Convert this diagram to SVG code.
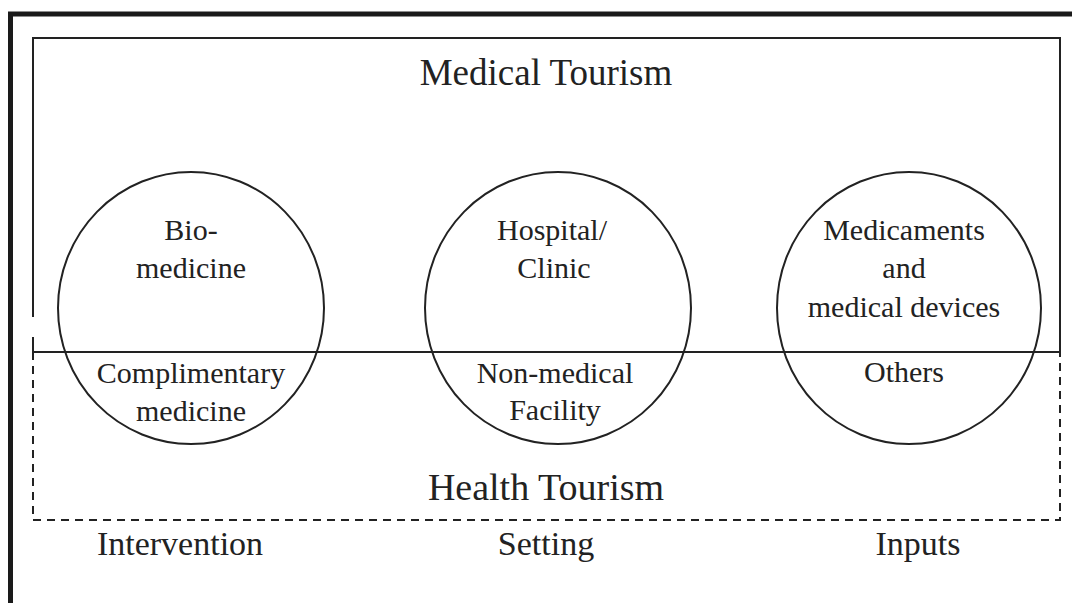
<svg xmlns="http://www.w3.org/2000/svg" width="1072" height="603" viewBox="0 0 1072 603">
<style>
text{font-family:"Liberation Serif","Times New Roman",serif;fill:#222;text-anchor:middle}
.c{font-size:30px}
.t{font-size:37px}
.h{font-size:38px}
.b{font-size:34px}
.ln{fill:none;stroke:#222;stroke-width:2}
.ds{fill:none;stroke:#222;stroke-width:2;stroke-dasharray:8 6}
</style>
<rect x="0" y="0" width="1072" height="603" fill="#fff"/>
<path d="M10.5,603 V14 H1072" fill="none" stroke="#1a1a1a" stroke-width="5"/>
<g id="medical-tourism">
<path class="ln" d="M33,317 V38 H1060 V352"/>
<path class="ln" d="M33,337 V352"/>
<text class="t" x="546" y="85">Medical Tourism</text>
</g>
<g id="connectors">
<line class="ln" x1="33" y1="352" x2="1060" y2="352"/>
</g>
<g id="health-tourism">
<path class="ds" d="M33,352 V520 H1060 V352"/>
<text class="h" x="546" y="500">Health Tourism</text>
</g>
<g id="intervention">
<ellipse class="ln" cx="191" cy="308" rx="133" ry="136"/>
<text class="c" x="191" y="240">Bio-</text>
<text class="c" x="191" y="278">medicine</text>
<text class="c" x="191" y="383">Complimentary</text>
<text class="c" x="191" y="421">medicine</text>
</g>
<g id="setting">
<ellipse class="ln" cx="558" cy="308" rx="133" ry="136"/>
<text class="c" x="552" y="240">Hospital/</text>
<text class="c" x="554" y="278">Clinic</text>
<text class="c" x="555" y="383">Non-medical</text>
<text class="c" x="555" y="420">Facility</text>
</g>
<g id="inputs">
<ellipse class="ln" cx="909" cy="308" rx="132" ry="136"/>
<text class="c" x="904" y="240">Medicaments</text>
<text class="c" x="904" y="278">and</text>
<text class="c" x="904" y="317">medical devices</text>
<text class="c" x="904" y="382">Others</text>
</g>
<g id="labels">
<text class="b" x="180" y="555">Intervention</text>
<text class="b" x="546" y="555">Setting</text>
<text class="b" x="918" y="555">Inputs</text>
</g>
</svg>
